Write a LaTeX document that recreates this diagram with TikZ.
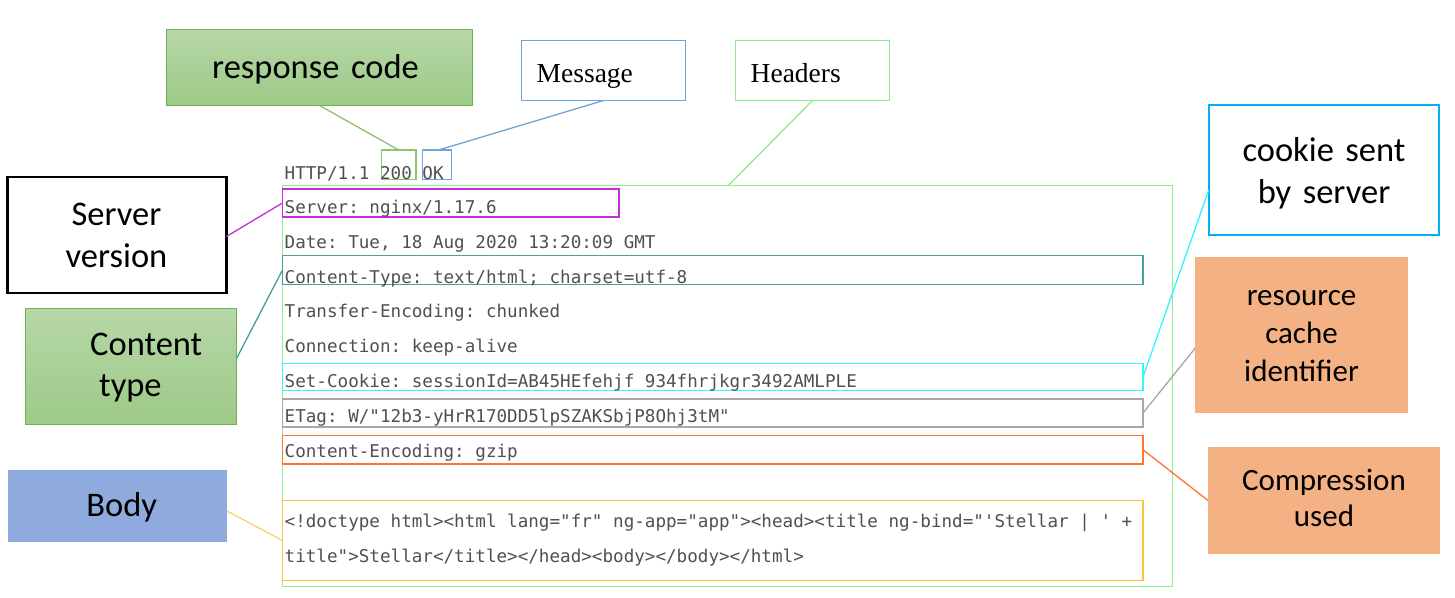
\documentclass[tikz,border=0pt]{standalone}
\usepackage{fontspec}
\setmonofont{DejaVu Sans Mono}
\newfontfamily\calib{Carlito}
\newfontfamily\garam{Liberation Serif}
\usetikzlibrary{calc}
\definecolor{grnA}{HTML}{B6D7A8}
\definecolor{grnB}{HTML}{9DCA87}
\definecolor{grnEdge}{HTML}{74B052}
\definecolor{grnLine}{HTML}{8CC46E}
\definecolor{msgBlue}{HTML}{6FA5DC}
\definecolor{hdrGreen}{HTML}{8EEE8E}
\definecolor{srvMag}{HTML}{C62FD9}
\definecolor{ctTeal}{HTML}{45A09C}
\definecolor{ckCyan}{HTML}{33F5FF}
\definecolor{etGray}{HTML}{A8A8A8}
\definecolor{ceOrange}{HTML}{FF7433}
\definecolor{bdGold}{HTML}{FBC43E}
\definecolor{bdGoldLine}{HTML}{F7D46A}
\definecolor{ckBlue}{HTML}{00B0F0}
\definecolor{peach}{HTML}{F4B183}
\definecolor{bodyFill}{HTML}{8FAADC}
\definecolor{monoGray}{HTML}{505050}
\begin{document}
\begin{tikzpicture}[x=1pt,y=-1pt,
  frame/.style={inner sep=0pt, outer sep=0pt, anchor=north west, line width=1.6pt},
  conn/.style={line width=1.3pt},
  mtxt/.style={inner sep=0pt, anchor=base west, text=monoGray,
    font=\ttfamily\frenchspacing\fontsize{17.6}{20}\selectfont},
  lbl/.style={inner sep=0pt, anchor=base, align=center, text width=#1,
    font=\calib\fontsize{34.5}{42}\selectfont},
  lbls/.style={inner sep=0pt, anchor=base, align=center, text width=#1,
    font=\calib\fontsize{31}{37.7}\selectfont},
  serl/.style={inner sep=0pt, anchor=base west,
    font=\garam\fontsize{27.5}{30}\selectfont}]
\useasboundingbox (0,0) rectangle (1455,597);
\fill[white] (0,0) rectangle (1455,597);

% ---- label boxes ----
\node[frame, draw=grnEdge, top color=grnA, bottom color=grnB,
  minimum width=306, minimum height=76] (rc) at (166.5,29.5) {};
\node[frame, draw=msgBlue, minimum width=164, minimum height=60] (msg) at (521.5,40.5) {};
\node[frame, draw=hdrGreen, minimum width=154, minimum height=60] (hdr) at (735.5,40.5) {};
\node[frame, draw=black, line width=2.4pt, minimum width=219, minimum height=116.5] (sv) at (7.5,176.7) {};
\node[frame, draw=grnEdge, top color=grnA, bottom color=grnB,
  minimum width=211, minimum height=116] (ct) at (25.5,308.5) {};
\node[frame, fill=bodyFill, minimum width=218.4, minimum height=72.3] (bd) at (8.3,470) {};
\node[frame, draw=ckBlue, line width=2pt, minimum width=230.6, minimum height=130] (ck) at (1208.7,105) {};
\node[frame, fill=peach, minimum width=212.4, minimum height=156] (res) at (1195.3,257.3) {};
\node[frame, fill=peach, minimum width=232, minimum height=107.6] (comp) at (1208,446.7) {};

% ---- label texts ----
\node[lbl=300] (trc) at (315.5,78.3) {response code};
\node[serl] (tmsg) at (536.5,82.3) {Message};
\node[serl] (thdr) at (750.5,82.3) {Headers};
\node[lbl=200] (tsv) at (116.5,225) {Server\\version};
\node[inner sep=0pt, anchor=base west, align=left, text width=150,
  font=\calib\fontsize{34.5}{41}\selectfont] (tct) at (90,355.7) {Content\\\hspace*{9pt}type};
\node[lbl=200] (tbd) at (121.7,516.7) {Body};
\node[lbl=220] (tck) at (1324,161) {cookie sent\\by server};
\node[lbls=200] (tres) at (1301.5,305.7) {resource\\cache\\identifier};
\node[inner sep=0pt, anchor=base, align=center, text width=220,
  font=\calib\fontsize{31}{36.7}\selectfont] (tcomp) at (1324,490) {Compression\\used};

% ---- response frames ----
\node[frame, draw=hdrGreen, minimum width=890, minimum height=401] (hbox) at (282.5,185.5) {};
\node[frame, draw=grnLine, line width=1.4pt, minimum width=34.5, minimum height=29.5] (c200) at (381.5,150) {};
\node[frame, draw=msgBlue, line width=1.4pt, minimum width=29, minimum height=29.5] (ok) at (422.5,150) {};
\node[frame, draw=srvMag, minimum width=336.5, minimum height=28] (srv) at (282.5,189) {};
\node[frame, draw=ctTeal, minimum width=860.5, minimum height=29] (ctb) at (282.5,255.5) {};
\node[frame, draw=ckCyan, minimum width=860.5, minimum height=27] (scb) at (282.5,363.5) {};
\node[frame, draw=etGray, minimum width=860.5, minimum height=28] (etb) at (282.5,399) {};
\node[frame, draw=ceOrange, minimum width=860.5, minimum height=28.5] (ceb) at (282.5,435.5) {};
\node[frame, draw=bdGold, minimum width=860.5, minimum height=80] (bdb) at (282.5,500.5) {};

% ---- response text ----
\node[mtxt] (l0) at (284.5,179) {HTTP/1.1 200 OK};
\node[mtxt] (l1) at (284.5,213.8) {Server: nginx/1.17.6};
\node[mtxt] (l2) at (284.5,248.2) {Date: Tue, 18 Aug 2020 13:20:09 GMT};
\node[mtxt] (l3) at (284.5,283) {Content-Type: text/html; charset=utf-8};
\node[mtxt] (l4) at (284.5,317.8) {Transfer-Encoding: chunked};
\node[mtxt] (l5) at (284.5,352.7) {Connection: keep-alive};
\node[mtxt] (l6) at (284.5,387.5) {Set-Cookie: sessionId=AB45HEfehjf 934fhrjkgr3492AMLPLE};
\node[mtxt] (l7) at (284.5,422.5) {ETag: W/"12b3-yHrR170DD5lpSZAKSbjP8Ohj3tM"};
\node[mtxt] (l8) at (284.5,457.5) {Content-Encoding: gzip};
\node[mtxt] (l9) at (284.5,527) {<!doctype html><html lang="fr" ng-app="app"><head><title ng-bind="'Stellar | ' +};
\node[mtxt] (l10) at (284.5,562) {title">Stellar</title></head><body></body></html>};

% ---- connectors ----
\draw[conn, grnLine] (rc.south) -- (c200.north);
\draw[conn, msgBlue] (msg.south) -- ($(ok.north)+(1.5,0)$);
\draw[conn, hdrGreen] (hdr.south) -- ($(hbox.north west)+(445.8,0)$);
\draw[conn, srvMag] ($(sv.east)+(0,1.5)$) -- (srv.west);
\draw[conn, ctTeal] ($(ct.east)+(0,-8)$) -- (ctb.west);
\draw[conn, bdGoldLine] ($(bd.east)+(0,4.7)$) -- (bdb.west);
\draw[conn, ckCyan] ($(ck.west)+(0,20)$) -- (scb.east);
\draw[conn, etGray] ($(res.west)+(0,12.7)$) -- (etb.east);
\draw[conn, ceOrange] (comp.west) -- (ceb.east);
\end{tikzpicture}
\end{document}
